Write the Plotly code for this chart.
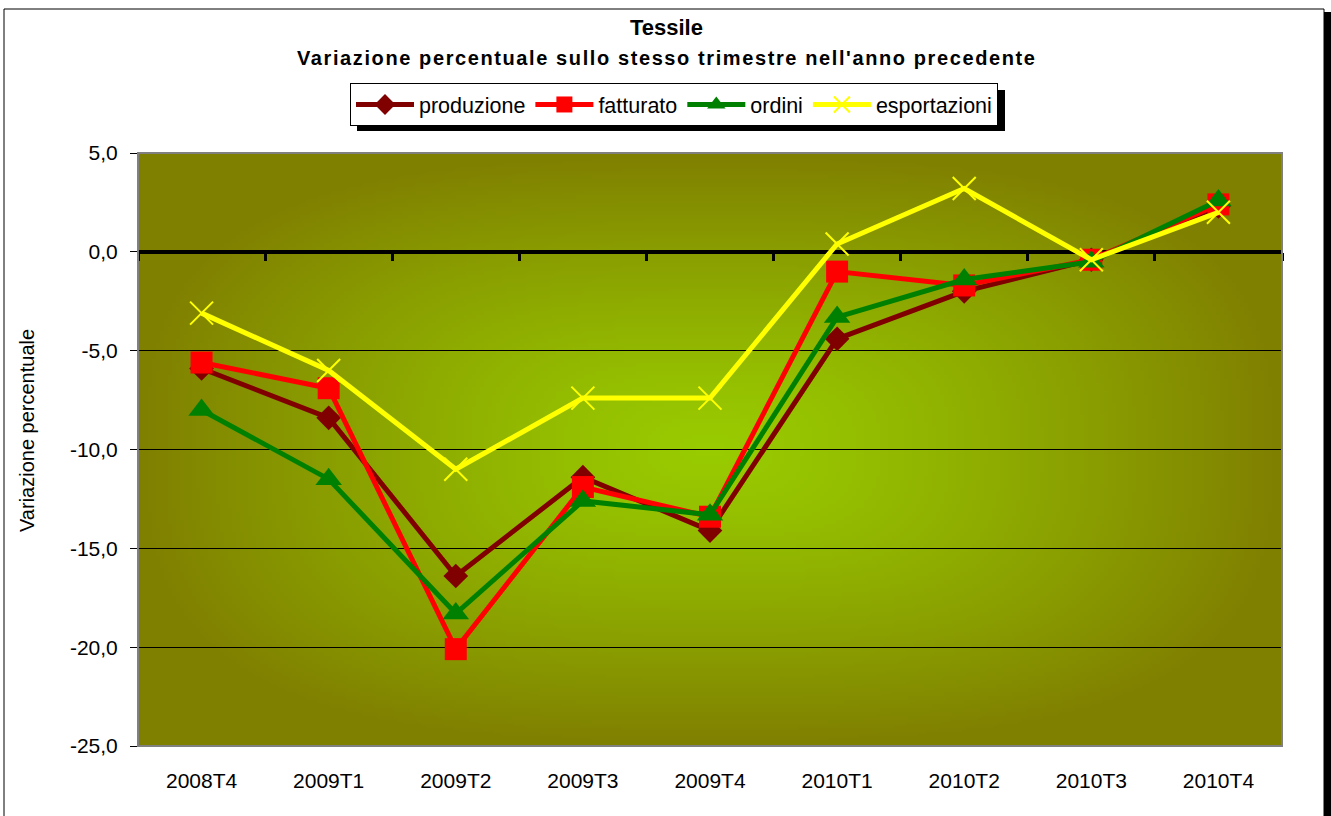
import base64, struct, zlib
import numpy as np
import plotly.graph_objects as go

categories = ["2008T4", "2009T1", "2009T2", "2009T3", "2009T4",
              "2010T1", "2010T2", "2010T3", "2010T4"]
produzione = [-5.9, -8.4, -16.4, -11.4, -14.1, -4.4, -2.0, -0.4, 2.3]
fatturato = [-5.6, -6.9, -20.1, -11.9, -13.4, -1.0, -1.7, -0.4, 2.4]
ordini = [-8.0, -11.5, -18.3, -12.6, -13.3, -3.3, -1.4, -0.5, 2.6]
esportazioni = [-3.1, -6.0, -11.0, -7.4, -7.4, 0.4, 3.2, -0.4, 2.0]
y_ticks = [5, 0, -5, -10, -15, -20, -25]
y_ticktext = [f"{v:.1f}".replace(".", ",") for v in y_ticks]

W, H = 1331, 816
L, R, T, B = 138, 1282, 153, 746
PW, PH = R - L, B - T


def px(x):
    return (x - L) / PW


def py(y):
    return (B - y) / PH


# ---- gradient background image (plot area) ----
gw, gh = 286, 148
xs = np.linspace(-1, 1, gw)[None, :]
ys = np.linspace(-1, 1, gh)[:, None]
p = 3.0
t = np.clip((np.abs(xs) ** p + np.abs(ys) ** p) ** (1 / p), 0, 1) ** 1.25
c_center = np.array([153, 204, 0], float)
c_edge = np.array([128, 128, 0], float)
img = (c_center[None, None, :] * (1 - t[..., None]) + c_edge[None, None, :] * t[..., None]).astype(np.uint8)


def to_png(arr):
    h, w, _ = arr.shape
    raw = b"".join(b"\x00" + arr[i].tobytes() for i in range(h))

    def chunk(tag, data):
        return (struct.pack(">I", len(data)) + tag + data +
                struct.pack(">I", zlib.crc32(tag + data) & 0xFFFFFFFF))
    return (b"\x89PNG\r\n\x1a\n" +
            chunk(b"IHDR", struct.pack(">IIBBBBB", w, h, 8, 2, 0, 0, 0)) +
            chunk(b"IDAT", zlib.compress(raw, 9)) + chunk(b"IEND", b""))


bg_uri = "data:image/png;base64," + base64.b64encode(to_png(img)).decode()

FONT = "Liberation Sans, Arial, sans-serif"

fig = go.Figure()
series = [
    ("produzione", produzione, "#800000", dict(symbol="diamond", size=19, color="#800000")),
    ("fatturato", fatturato, "#FF0000", dict(symbol="square", size=22, color="#FF0000")),
    ("ordini", ordini, "#008000", dict(symbol="triangle-up", size=23, color="#008000")),
    ("esportazioni", esportazioni, "#FFFF00",
     dict(symbol="x-thin-open", size=23, color="#FFFF00", line=dict(color="#FFFF00", width=2))),
]
for name, vals, col, mk in series:
    fig.add_trace(go.Scatter(x=categories, y=vals, name=name, mode="lines+markers",
                             line=dict(color=col, width=5), marker=mk))

# helper trace so that the boundary tick axis on the zero line is drawn
fig.add_trace(go.Scatter(x=[None], y=[None], xaxis="x2", yaxis="y", showlegend=False,
                         hoverinfo="skip", mode="markers"))

fig.update_layout(
    width=W, height=H,
    margin=dict(l=L, r=W - R, t=T, b=H - B),
    paper_bgcolor="white", plot_bgcolor="#808000",
    separators=",.",
    font=dict(family=FONT, size=20, color="black"),
    showlegend=True,
    legend=dict(orientation="h", x=px(350), y=py(83), xanchor="left", yanchor="top",
                bgcolor="white", bordercolor="black", borderwidth=1,
                font=dict(family=FONT, size=21.5, color="black"),
                itemwidth=58, traceorder="normal"),
    xaxis=dict(type="category", categoryorder="array", categoryarray=categories,
               range=[-0.5, 8.5],
               showgrid=False, ticks="", showline=False, zeroline=False,
               tickfont=dict(size=21), ticklabelstandoff=20),
    xaxis2=dict(overlaying="x", anchor="free", position=25 / 30, side="bottom",
                range=[-0.5, 8.5], tickvals=[i - 0.5 for i in range(10)],
                showticklabels=False, ticks="outside", ticklen=8, tickwidth=3,
                tickcolor="black", showgrid=False, zeroline=False, showline=False),
    yaxis=dict(range=[-25, 5], tickvals=y_ticks, ticktext=y_ticktext,
               showgrid=True, gridcolor="black", gridwidth=1,
               zeroline=True, zerolinecolor="black", zerolinewidth=4,
               showline=True, linecolor="black", linewidth=1,
               ticks="outside", ticklen=7, tickcolor="black",
               tickfont=dict(size=21), ticklabelstandoff=8),
    images=[dict(source=bg_uri, xref="paper", yref="paper", x=0, y=1,
                 sizex=1, sizey=1, sizing="stretch", layer="below")],
)

shapes = [
    dict(type="rect", xref="paper", yref="paper", x0=0, y0=0, x1=1, y1=1,
         line=dict(color="#808080", width=2), layer="above"),
    dict(type="rect", xref="paper", yref="paper", x0=px(4), x1=px(1324), y0=py(9), y1=py(840),
         line=dict(color="black", width=1)),
    dict(type="rect", xref="paper", yref="paper", x0=px(1324), x1=px(1331), y0=py(12), y1=py(840),
         fillcolor="black", line=dict(width=0)),
    dict(type="rect", xref="paper", yref="paper", x0=px(357), x1=px(1005), y0=py(90), y1=py(131),
         fillcolor="black", line=dict(width=0), layer="above"),
]
fig.update_layout(shapes=shapes)

fig.add_annotation(text="<b>Tessile</b>", xref="paper", yref="paper", x=px(666), y=py(28),
                   showarrow=False, font=dict(family=FONT, size=22), xanchor="center", yanchor="middle")
fig.add_annotation(text="<b><span style='letter-spacing:1.6px'>Variazione percentuale sullo stesso trimestre nell'anno precedente</span></b>",
                   xref="paper", yref="paper", x=px(666), y=py(58),
                   showarrow=False, font=dict(family=FONT, size=20), xanchor="center", yanchor="middle")
fig.add_annotation(text="Variazione percentuale", xref="paper", yref="paper", x=px(27), y=py(431),
                   textangle=-90, showarrow=False, font=dict(family=FONT, size=20),
                   xanchor="center", yanchor="middle")

fig.write_html("out.html", config={"displayModeBar": False},
               post_script="document.body.style.margin='0';")
